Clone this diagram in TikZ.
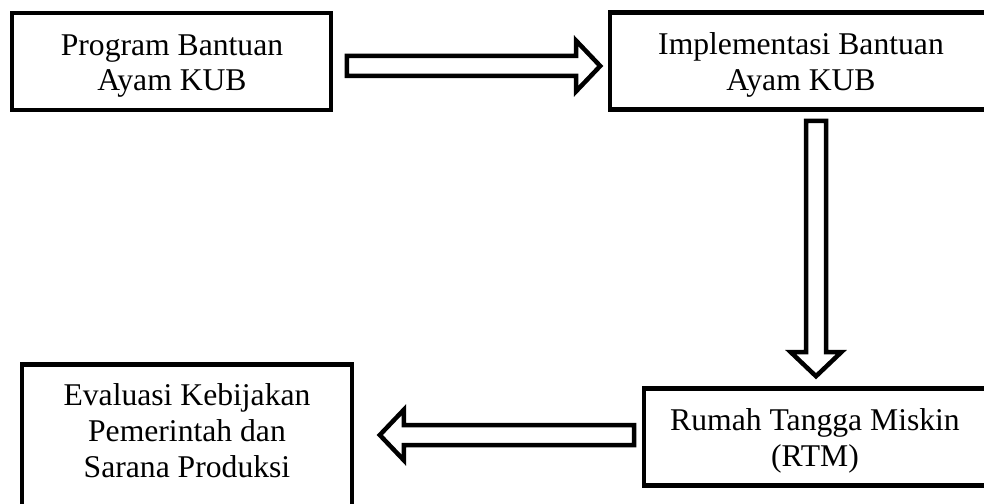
\documentclass[tikz,border=0pt]{standalone}
\usepackage{fontspec}
\setmainfont{Liberation Serif}
\usetikzlibrary{calc}
\tikzset{
  frame/.style={draw,line width=3.2pt,rectangle,inner sep=0pt},
  boxtext/.style={align=center,inner sep=0pt,font=\fontsize{22.5}{25.5}\selectfont},
  hollow/.style={draw,line width=3.2pt,line join=miter,fill=white}
}
% hollow block arrow from #1 to #2
\newcommand{\hollowarrow}[2]{%
  \coordinate (hb) at ($(#2)!0.6cm!(#1)$);
  \draw[hollow] ($(#1)!0.25cm!90:(#2)$) -- ($(hb)!0.25cm!-90:(#1)$)
    -- ($(hb)!0.63cm!-90:(#1)$) -- (#2) -- ($(hb)!0.63cm!90:(#1)$)
    -- ($(hb)!0.25cm!90:(#1)$) -- ($(#1)!0.25cm!-90:(#2)$) -- cycle;
}
\begin{document}
\begin{tikzpicture}[x=0.025cm,y=-0.025cm]
\useasboundingbox (0,0) rectangle (984,504);
\clip (0,0) rectangle (984,504);
% boxes
\node[frame,minimum width=7.975cm,minimum height=2.425cm] (prog) at (171.5,61.5) {};
\node[boxtext] (progtext) at (172,66) {Program Bantuan\\Ayam KUB};
\node[frame,minimum width=9.55cm,minimum height=2.425cm] (impl) at (801,61) {};
\node[boxtext] (impltext) at (801,65) {Implementasi Bantuan\\Ayam KUB};
\node[frame,minimum width=8.55cm,minimum height=2.425cm] (rtm) at (815,437) {};
\node[boxtext] (rtmtext) at (815,441) {Rumah Tangga Miskin\\(RTM)};
\node[frame,minimum width=8.25cm,minimum height=3.8875cm] (eval) at (187,442.25) {};
\node[boxtext] (evaltext) at (187,431) {Evaluasi Kebijakan\\Pemerintah dan\\Sarana Produksi};
% arrows
\coordinate (a1s) at ($(prog.east)+(13.5,4.5)$);
\coordinate (a1e) at ($(impl.west)+(-7.5,5)$);
\coordinate (a2s) at ($(impl.south)+(15,9)$);
\coordinate (a2e) at ($(rtm.north)+(1,-10)$);
\coordinate (a3s) at ($(rtm.west)+(-7.5,-2)$);
\coordinate (a3e) at ($(eval.east)+(25.5,-7.25)$);
\hollowarrow{a1s}{a1e}
\hollowarrow{a2s}{a2e}
\hollowarrow{a3s}{a3e}
\end{tikzpicture}
\end{document}
